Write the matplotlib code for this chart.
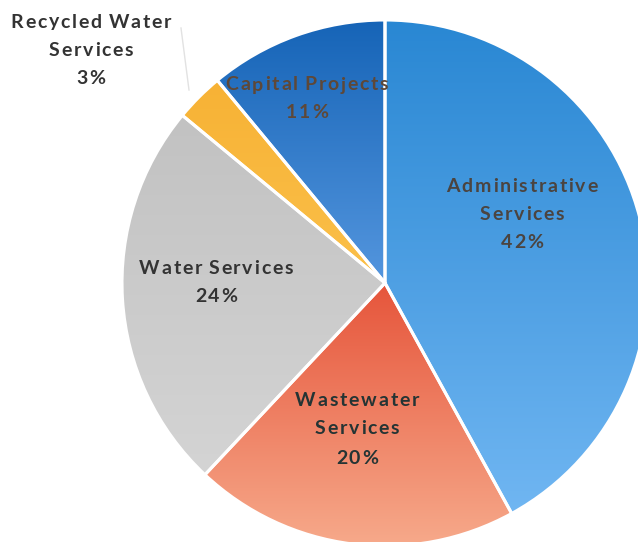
import numpy as np
import matplotlib
matplotlib.use("Agg")
import matplotlib.pyplot as plt
from matplotlib.colors import LinearSegmentedColormap
from matplotlib.font_manager import FontProperties

plt.rcParams['font.family'] = ['Lato', 'DejaVu Sans']

# Budget shares by division (percent), clockwise from 12 o'clock
categories = ["Administrative\nServices", "Wastewater\nServices", "Water Services",
              "Recycled Water\nServices", "Capital Projects"]
shares = [42, 20, 24, 3, 11]
pct_labels = ["42%", "20%", "24%", "3%", "11%"]

# top / bottom colours of each slice's vertical gradient
grad_top = ["#2987d3", "#e6553b", "#c2c2c2", "#f7b235", "#1664b7"]
grad_bot = ["#70b6f2", "#f7ab8c", "#d4d4d4", "#fbc04a", "#5496de"]
text_colors = ["#4b4440", "#243434", "#333333", "#333333", "#5e4838"]

W, H = 638, 542
fig = plt.figure(figsize=(W / 100, H / 100), dpi=100)
ax = fig.add_axes([0, 0, 1, 1])

cx, cy, r = 385, H - 283, 263

wedges, _ = ax.pie(shares, startangle=90, counterclock=False,
                   center=(cx, cy), radius=r, colors=grad_top,
                   wedgeprops=dict(linewidth=0))

ax.set_xlim(0, W)
ax.set_ylim(0, H)
ax.set_aspect("equal")
ax.axis("off")

# vertical gradients clipped to each wedge, spanning the wedge's own height
gy = np.linspace(0, 1, 256).reshape(-1, 1)
for w, c0, c1 in zip(wedges, grad_top, grad_bot):
    verts = w.get_path().vertices
    y0, y1 = verts[:, 1].min(), verts[:, 1].max()
    cmap = LinearSegmentedColormap.from_list("g", [c1, c0])
    im = ax.imshow(gy, cmap=cmap, aspect="auto", origin="lower",
                   extent=(cx - r, cx + r, y0, y1), zorder=2,
                   interpolation="bilinear")
    im.set_clip_path(w)

# white separators between slices
ax.pie(shares, startangle=90, counterclock=False, center=(cx, cy), radius=r,
       colors=["none"] * len(shares),
       wedgeprops=dict(linewidth=2.2, edgecolor="white", zorder=3))
ax.set_xlim(0, W)
ax.set_ylim(0, H)
ax.set_aspect("equal")
ax.axis("off")

renderer = fig.canvas.get_renderer()
fs = 14
prop = FontProperties(family=['Lato', 'DejaVu Sans'], weight="bold", size=fs)
TRACK = 1.8
SPACE = 3.0

def char_w(ch):
    if ch == " ":
        return SPACE
    w, _, _ = renderer.get_text_width_height_descent(ch, prop, ismath=False)
    return w

def spaced_line(xc, y, s, color):
    widths = [char_w(ch) for ch in s]
    total = sum(widths) + TRACK * (len(s) - 1)
    x = xc - total / 2
    for ch, w in zip(s, widths):
        if ch != " ":
            ax.text(x, H - y, ch, ha="left", va="center", fontproperties=prop,
                    color=color, zorder=5)
        x += w + TRACK

def label(xc, ys, txt, color):
    for y, line in zip(ys, txt.split("\n")):
        spaced_line(xc, y, line, color)

# slice labels
label(522, [186, 214, 242], categories[0] + "\n" + pct_labels[0], text_colors[0])
label(357, [400, 428, 458], categories[1] + "\n" + pct_labels[1], text_colors[1])
label(216, [268, 297], categories[2] + "\n" + pct_labels[2], text_colors[2])
label(307, [85, 112], categories[4] + "\n" + pct_labels[4], text_colors[4])
label(91, [22, 50, 78], categories[3] + "\n" + pct_labels[3], text_colors[3])

# leader line for the small slice
ax.plot([181, 189], [H - 28, H - 90], color="#e2e2e2", lw=1, zorder=4)

fig.savefig("out.png", dpi=100, facecolor="white")
